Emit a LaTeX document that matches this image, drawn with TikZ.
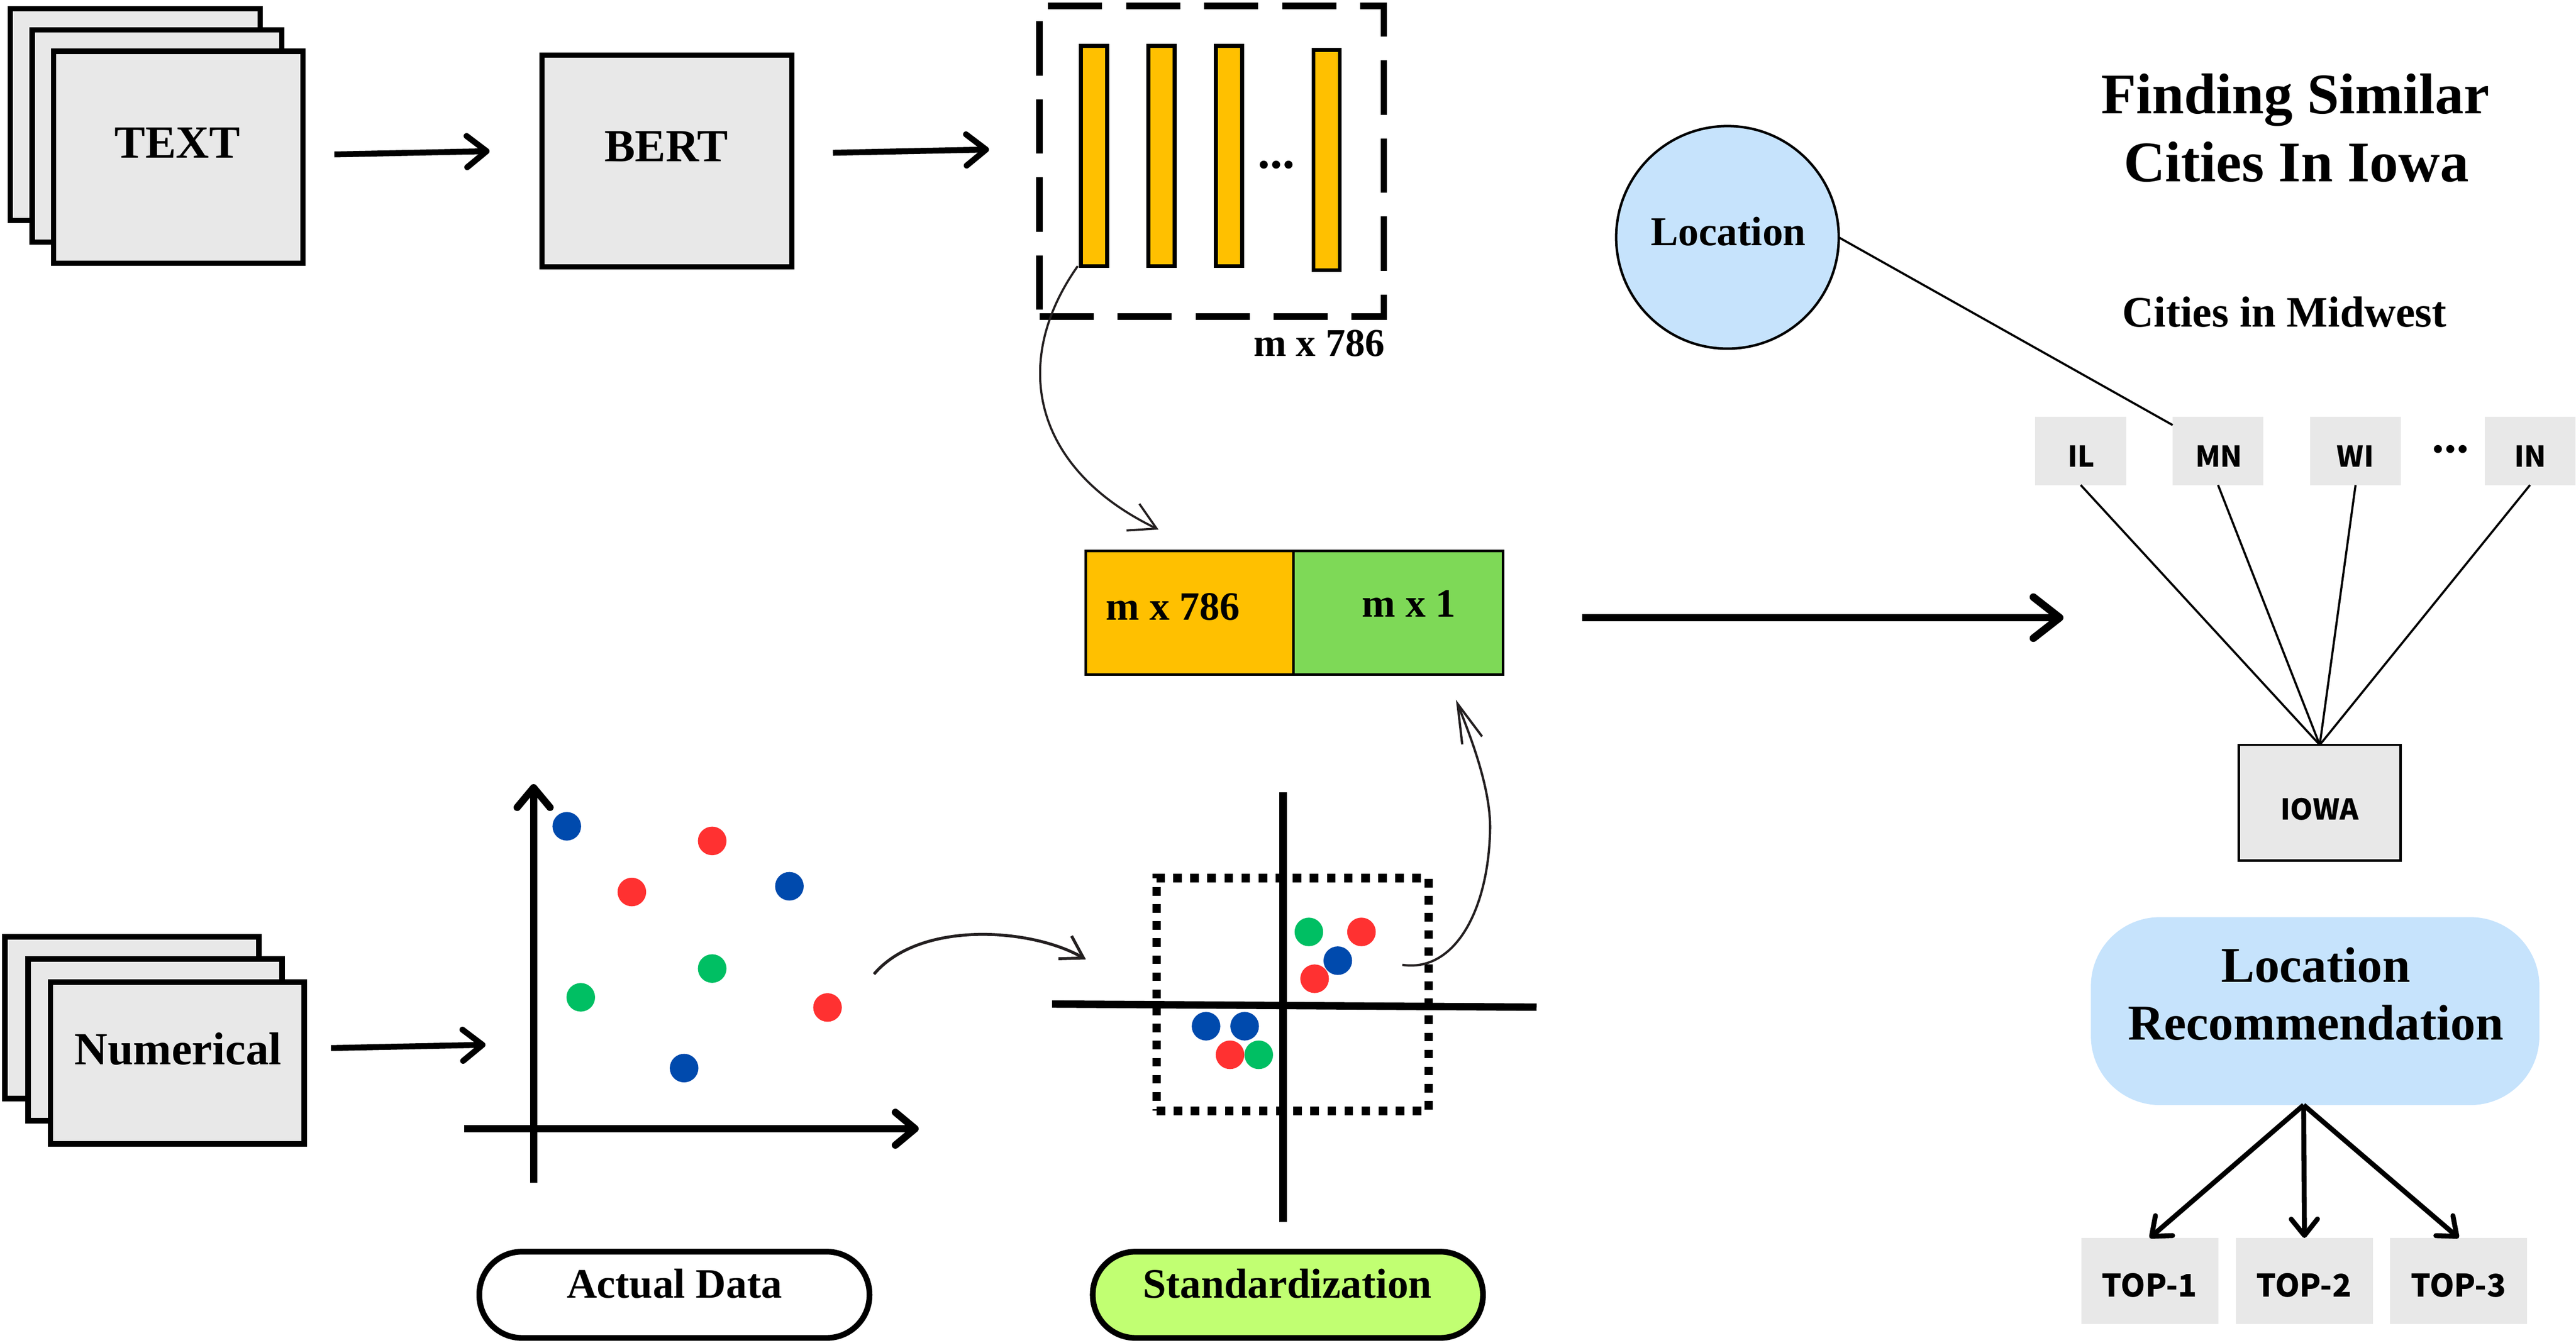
\documentclass[tikz,border=0pt]{standalone}
\usepackage{fontspec}
\setmainfont{Liberation Serif}
\newfontfamily\labsans{Noto Sans CJK SC}
\usetikzlibrary{arrows.meta}
\definecolor{cardgray}{HTML}{E8E8E8}
\definecolor{baryellow}{HTML}{FFC000}
\definecolor{catgreen}{HTML}{7ED957}
\definecolor{limefill}{HTML}{C1FF72}
\definecolor{lightblue}{HTML}{C6E3FC}
\definecolor{dotblue}{HTML}{004AAD}
\definecolor{dotred}{HTML}{FF3131}
\definecolor{dotgreen}{HTML}{00BF63}
\definecolor{curvecol}{HTML}{231F20}
\newcommand{\serf}[1]{\fontsize{#1}{#1}\selectfont\bfseries}
\newcommand{\sanf}[1]{\labsans\fontsize{#1}{#1}\selectfont\bfseries}
\begin{document}
\begin{tikzpicture}[x=1pt,y=-1pt,
  card/.style={draw, line width=3.2pt, fill=cardgray, minimum width=152pt, minimum height=129pt, inner sep=0pt, outer sep=0pt},
  numcard/.style={card, minimum width=154.5pt, minimum height=98.5pt, line width=3.4pt},
  barbox/.style={draw, line width=2.4pt, fill=baryellow, minimum width=16pt, minimum height=134pt, inner sep=0pt, outer sep=0pt},
  catbox/.style={draw, line width=1.6pt, minimum height=75.3pt, inner sep=0pt, outer sep=0pt},
  cityb/.style={fill=cardgray, minimum width=55.3pt, minimum height=41.5pt, inner sep=0pt, outer sep=0pt},
  topb/.style={fill=cardgray, minimum width=83.4pt, minimum height=52.4pt, inner sep=0pt, outer sep=0pt},
  pill/.style={draw, line width=3.5pt, rounded corners=26pt, minimum width=237.5pt, minimum height=52.5pt, inner sep=0pt, outer sep=0pt},
  lbl/.style={inner sep=0pt, outer sep=0pt, anchor=base},
  thinline/.style={line width=1.3pt},
  thickarr/.style={line width=3.6pt, -{Straight Barb[length=12pt,width=19pt,round]}},
  bigarr/.style={line width=4.6pt, -{Straight Barb[length=16pt,width=25pt,round]}},
  toparr/.style={line width=3pt, -{Straight Barb[length=10pt,width=16pt,round]}},
  axisarr/.style={line width=4.4pt, -{Straight Barb[length=12pt,width=20pt,round]}},
  curveA/.style={draw=curvecol, line width=1.3pt, -{Straight Barb[length=16pt,width=18pt]}},
  curveB/.style={draw=curvecol, line width=1.8pt, -{Straight Barb[length=13pt,width=16pt]}},
  curveC/.style={draw=curvecol, line width=1.4pt, -{Straight Barb[length=24pt,width=13pt]}},
]
\useasboundingbox (0,0) rectangle (1568,817.5);

% ---------- TEXT stack ----------
\node[card] (t1) at (82.3,69.8) {};
\node[card] (t2) at (95.6,82.8) {};
\node[card] (t3) at (108.5,95.7) {};
\node[lbl, font=\serf{28}] (tl) at (108,96.2) {TEXT};

% ---------- BERT ----------
\node[card] (bert) at (406,98) {};
\node[lbl, font=\serf{28}] (bertl) at (405.5,98.4) {BERT};

\draw[thickarr] ([xshift=19pt,yshift=1.7pt]t3.east) -- ([xshift=-32pt,yshift=6pt]bert.west);

% ---------- embedding box ----------
\node[draw, line width=4pt, dash pattern=on 33pt off 14.5pt, minimum width=209.6pt, minimum height=189pt, inner sep=0pt, outer sep=0pt] (emb) at (737.5,98.2) {};
\node[barbox] (bar1) at (666,95) {};
\node[barbox] (bar2) at (707,95) {};
\node[barbox] (bar3) at (748,95) {};
\node[barbox] (bar4) at (807.5,97.5) {};
\node[lbl, font=\serf{30}] (bardots) at (777,102.5) {...};
\node[lbl, anchor=base east, font=\serf{24}] (embdim) at (843,217) {m x 786};

\draw[thickarr] ([xshift=25pt,yshift=5pt]bert.east) -- ([xshift=-30.7pt,yshift=7.2pt]emb.west);

% ---------- concatenated vector ----------
\node[catbox, fill=baryellow, minimum width=126.4pt] (catA) at (724.2,373) {};
\node[catbox, fill=catgreen, minimum width=127.6pt] (catB) at (851.2,373) {};
\node[lbl, font=\serf{24.5}] (catAl) at (714,377.3) {m x 786};
\node[lbl, font=\serf{24.5}] (catBl) at (857.6,375.6) {m x 1};

\draw[curveA] ([xshift=-2pt]bar1.south west) .. controls (615,220) and (628,285) .. ([xshift=-19pt,yshift=13pt]catA.north);

% ---------- big arrow ----------
\coordinate (bigtip) at (1256,376);
\draw[bigarr] ([xshift=48pt,yshift=-3pt]catB.east) -- (bigtip);

% ---------- title ----------
\node[lbl, font=\serf{35}] (title1) at (1397,69) {Finding Similar};
\node[lbl, font=\serf{35}] (title2) at (1397.7,110.5) {Cities In Iowa};

% ---------- location ----------
\node[circle, draw, line width=1.5pt, fill=lightblue, minimum size=135.5pt, inner sep=0pt, outer sep=0pt] (loc) at (1051.5,144.5) {};
\node[lbl, font=\serf{25}] (locl) at (1052,149.5) {Location};

\node[lbl, font=\serf{26.5}] (midw) at (1390.5,199) {Cities in Midwest};

\node[cityb] (il) at (1266.5,274.5) {};
\node[cityb] (mn) at (1350.1,274.5) {};
\node[cityb] (wi) at (1433.8,274.5) {};
\node[cityb] (in) at (1540,274.5) {};
\node[lbl, font=\sanf{17.5}] (ill) at (1266.9,284.3) {IL};
\node[lbl, font=\sanf{17.5}] (mnl) at (1350.6,284.3) {MN};
\node[lbl, font=\sanf{17.5}] (wil) at (1433.7,284.3) {WI};
\node[lbl, font=\sanf{17.5}] (inl) at (1540.2,284.3) {IN};
\node[lbl, font=\serf{30}] (citydots) at (1491.6,275.5) {...};

\draw[thinline] (loc.east) -- ([yshift=-5pt]mn.north west);

\node[draw, line width=1.5pt, fill=cardgray, minimum width=98.5pt, minimum height=70.5pt, inner sep=0pt, outer sep=0pt] (iowa) at (1412,488.7) {};
\node[lbl, font=\sanf{17.5}] (iowal) at (1412,499) {IOWA};

\foreach \c in {il,mn,wi,in} \draw[thinline] (\c.south) -- (iowa.north);

% ---------- recommendation ----------
\node[fill=lightblue, rounded corners=42pt, minimum width=273pt, minimum height=114.4pt, inner sep=0pt, outer sep=0pt] (rec) at (1409.2,615.5) {};
\node[lbl, font=\serf{30.5}] (recl1) at (1409.6,598) {Location};
\node[lbl, font=\serf{30.5}] (recl2) at (1409.6,633) {Recommendation};

\node[topb] (top1) at (1308.5,779.8) {};
\node[topb] (top2) at (1402.7,779.8) {};
\node[topb] (top3) at (1496.6,779.8) {};
\node[lbl, font=\sanf{19}] (top1l) at (1308.3,789.6) {TOP-1};
\node[lbl, font=\sanf{19}] (top2l) at (1402.3,789.6) {TOP-2};
\node[lbl, font=\sanf{19}] (top3l) at (1496.4,789.6) {TOP-3};

\foreach \t in {top1,top2,top3} \draw[toparr] ([xshift=-7pt]rec.south) -- (\t.north);

% ---------- Numerical stack ----------
\node[numcard] (n1) at (80.3,619.4) {};
\node[numcard] (n2) at (94.4,633) {};
\node[numcard] (n3) at (108,647) {};
\node[lbl, font=\serf{28}] (numl) at (108.4,648) {Numerical};

\coordinate (numtip) at (295.5,636);
\draw[thickarr] ([xshift=16.2pt,yshift=9pt]n3.east) -- (numtip);

% ---------- actual data plot ----------
\coordinate (yab) at (324.8,719.9);
\coordinate (yat) at (324.8,477.3);
\coordinate (xal) at (282.7,687.1);
\coordinate (xar) at (559.2,687.1);
\draw[axisarr] (yab) -- (yat);
\draw[axisarr] (xal) -- (xar);
\fill[dotblue] (345,503) circle[radius=8.7pt];
\fill[dotred] (433.5,511.9) circle[radius=8.7pt];
\fill[dotred] (384.6,543) circle[radius=8.7pt];
\fill[dotblue] (480.5,539.5) circle[radius=8.7pt];
\fill[dotgreen] (433.5,589.6) circle[radius=8.7pt];
\fill[dotgreen] (353.5,607.1) circle[radius=8.7pt];
\fill[dotred] (503.7,613.3) circle[radius=8.7pt];
\fill[dotblue] (416.4,650.2) circle[radius=8.7pt];

% ---------- standardized plot ----------
\node[draw, line width=5.2pt, dash pattern=on 5.2pt off 5.2pt, minimum width=165.6pt, minimum height=141.7pt, inner sep=0pt, outer sep=0pt] (dotb) at (786.8,605.35) {};
\coordinate (sxl) at (640.4,611.2);
\coordinate (sxr) at (935.3,613.1);
\coordinate (syt) at (781,482.4);
\coordinate (syb) at (781,744);
\draw[line width=4.5pt] (sxl) -- (sxr);
\draw[line width=4.5pt] (syt) -- (syb);
\fill[dotgreen] (796.7,567.3) circle[radius=8.7pt];
\fill[dotred] (828.7,567.3) circle[radius=8.7pt];
\fill[dotblue] (814.3,584.8) circle[radius=8.7pt];
\fill[dotred] (800.2,595.8) circle[radius=8.7pt];
\fill[dotblue] (734.1,624.7) circle[radius=8.7pt];
\fill[dotblue] (757.6,624.7) circle[radius=8.7pt];
\fill[dotred] (748.7,642.1) circle[radius=8.7pt];
\fill[dotgreen] (766.2,642.1) circle[radius=8.7pt];

\coordinate (adstart) at (532,593);
\draw[curveB] (adstart) .. controls (560,560) and (628,565) .. ([xshift=-43pt,yshift=21.3pt]dotb.west);
\draw[curveC] ([xshift=-16pt,yshift=18pt]dotb.east) .. controls (885,592) and (906,555) .. (907,505) .. controls (907.5,480) and (895,448) .. ([xshift=35pt,yshift=-15.3pt]catB.south);

% ---------- pills ----------
\node[pill, fill=white] (actual) at (410.5,788.2) {};
\node[pill, fill=limefill] (stdz) at (783.9,788.2) {};
\node[lbl, font=\serf{25.5}] (actuall) at (410.5,790) {Actual Data};
\node[lbl, font=\serf{25.5}] (stdzl) at (783.6,790) {Standardization};
\end{tikzpicture}
\end{document}
